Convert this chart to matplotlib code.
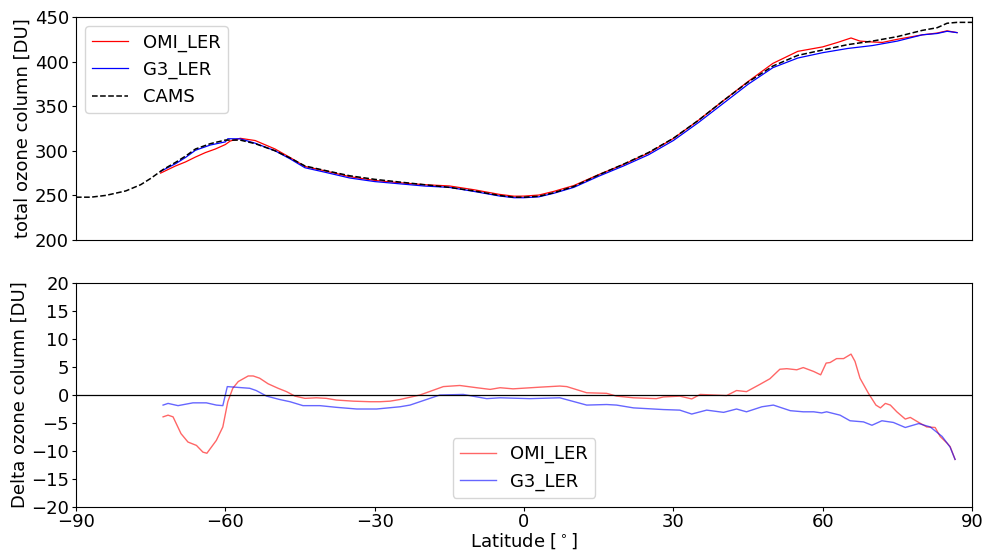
import matplotlib
matplotlib.use('Agg')
import matplotlib.pyplot as plt
import numpy as np

# Top panel: total ozone column [DU]
lat_cams = [-90, -87, -84, -80, -77, -75, -72.5, -70, -68, -66, -63, -60, -57, -54, -50, -47,
            -44, -40, -35, -30, -25, -20, -15, -10, -5, -2, 0, 3, 6, 10, 15, 20, 25, 30,
            35, 40, 45, 50, 55, 60, 65, 70, 75, 80, 83, 85, 87, 90]
cams = [248, 248, 250, 255, 262, 269, 279, 287, 294, 302, 308, 312, 312, 308, 300, 292,
        283, 278, 272, 268, 265, 262, 259, 255, 250, 248, 248, 249, 253, 260, 273, 285, 298, 314,
        334, 356, 377, 395, 407, 413, 419, 423, 428, 435, 438, 443, 444, 444]

lat_omi_top = [-73, -70, -68, -66, -64, -62, -60, -59, -57, -54, -50, -47, -44, -40, -35, -30,
               -25, -20, -15, -10, -5, -2, 0, 3, 6, 10, 15, 20, 25, 30, 35, 40, 45, 50, 55,
               60, 63, 65.7, 67.5, 70, 72, 75, 80, 83, 85, 87]
omi_top = [275, 283, 287.5, 293, 298, 302, 307, 311, 314, 311.5, 302, 292.5, 282.5, 277.5, 271,
           266.8, 264.2, 262, 260.6, 256.3, 251.2, 249.1, 249.2, 250.4, 254.5, 261, 273.3, 284.7,
           297.4, 313.8, 334, 356, 377.6, 398, 411.5, 416.5, 421.5, 426.5, 423, 422, 421.5, 425,
           430, 432, 434.5, 432.5]

lat_g3_top = [-73, -70, -68, -66, -63, -60, -59.5, -57, -54, -50, -47, -44, -40, -35, -30, -25,
              -20, -15, -10, -5, -2, 0, 3, 6, 10, 15, 20, 25, 30, 35, 40, 45, 50, 55, 60, 65,
              70, 75, 80, 83, 85, 87]
g3_top = [277, 285.5, 292.5, 300.6, 306.5, 310, 313.5, 313.4, 308.5, 300, 291, 281, 276, 269.5,
          265.5, 263, 260.5, 259, 254.4, 249.4, 247.4, 247.4, 248.4, 252.4, 259, 271.5, 283,
          295.5, 311.5, 331.5, 353, 374.5, 393.2, 404, 410, 414.7, 418, 423, 430, 431.5, 434,
          432.5]

# Bottom panel: difference to CAMS [DU]
lat_omi_d = [-72.5, -71.5, -70.5, -68.9, -67.5, -65.8, -64.5, -63.7, -61.8, -60.5, -59.5, -58.5,
             -57.4, -55.4, -54.4, -53.1, -51.4, -49.4, -47.7, -46.0, -44.0, -41.7, -39.7, -37.7,
             -34.3, -30.9, -28.9, -26.9, -24.9, -20.9, -16.2, -12.9, -9.5, -6.8, -4.8, -2.2,
             3.2, 7.2, 8.6, 12.6, 16.6, 18.6, 22.0, 26.6, 28.0, 31.3, 33.7, 35.4, 38.0, 40.7,
             42.7, 44.7, 47.4, 49.4, 51.4, 52.8, 54.8, 56.1, 58.2, 59.6, 60.7, 61.5, 62.8, 64.2,
             65.7, 66.5, 67.5, 69.2, 70.7, 71.6, 72.6, 73.6, 74.9, 76.6, 77.6, 79.3, 80.9, 82.6,
             83.6, 85.0, 85.6, 86.6]
omi_d = [-3.9, -3.6, -3.9, -6.9, -8.4, -9.0, -10.2, -10.4, -8.1, -5.7, -1.2, 1.2,
         2.4, 3.4, 3.4, 3.0, 2.0, 1.2, 0.6, -0.2, -0.6, -0.5, -0.6, -0.9,
         -1.1, -1.2, -1.2, -1.1, -0.8, 0.0, 1.5, 1.7, 1.3, 1.0, 1.3, 1.1,
         1.4, 1.6, 1.5, 0.4, 0.3, -0.2, -0.5, -0.65, -0.35, -0.2, -0.7, 0.1, 0.0, -0.1,
         0.8, 0.6, 1.9, 2.9, 4.6, 4.7, 4.5, 4.9, 4.2, 3.6, 5.7, 5.8, 6.5, 6.5,
         7.3, 6.0, 3.0, 0.3, -1.8, -2.3, -1.5, -1.8, -3.0, -4.3, -4.0, -4.9, -5.7, -5.8,
         -7.4, -8.6, -9.2, -11.5]

lat_g3_d = [-72.5, -71.5, -69.5, -66.5, -63.8, -61.8, -60.5, -59.6, -58.1, -55.1, -53.8, -51.7,
            -49.1, -47.0, -44.4, -41.0, -37.7, -33.6, -29.6, -24.9, -22.9, -16.9, -12.2, -7.5,
            -4.8, 1.2, 7.2, 12.6, 16.6, 18.6, 22.0, 26.0, 28.0, 31.3, 33.7, 36.7, 40.1, 42.7,
            44.7, 47.8, 50.1, 53.5, 56.1, 58.2, 59.8, 60.8, 63.5, 65.5, 68.2, 69.9, 71.9, 74.2,
            76.6, 79.3, 81.6, 84.0, 85.6, 86.6]
g3_d = [-1.8, -1.5, -1.9, -1.4, -1.4, -1.8, -1.9, 1.5, 1.4, 1.2, 0.8, -0.2,
        -0.8, -1.2, -1.9, -1.9, -2.2, -2.5, -2.5, -2.1, -1.8, 0.0, 0.1, -0.65,
        -0.5, -0.65, -0.5, -1.8, -1.7, -1.8, -2.3, -2.5, -2.6, -2.7, -3.4, -2.7, -3.1, -2.5,
        -3.0, -2.1, -1.8, -2.8, -3.0, -3.0, -3.2, -3.0, -3.6, -4.6, -4.8, -5.4, -4.6, -4.9,
        -5.8, -5.1, -5.7, -7.4, -9.3, -11.5]

xticks = [-90, -60, -30, 0, 30, 60, 90]
yticks_top = [200, 250, 300, 350, 400, 450]
yticks_bot = [-20, -15, -10, -5, 0, 5, 10, 15, 20]

plt.rcParams['font.size'] = 13
plt.rcParams['xtick.major.size'] = 3
plt.rcParams['ytick.major.size'] = 3
plt.rcParams['xtick.major.pad'] = 1.5
plt.rcParams['ytick.major.pad'] = 2

fig = plt.figure(figsize=(9.88, 5.54), dpi=100)
ax1 = fig.add_axes([0.0769, 0.5668, 0.9069, 0.4025])
ax2 = fig.add_axes([0.0769, 0.0848, 0.9069, 0.4044])

# top
ax1.plot(lat_omi_top, omi_top, color='red', lw=0.9, label='OMI_LER')
ax1.plot(lat_g3_top, g3_top, color='blue', lw=0.9, label='G3_LER')
ax1.plot(lat_cams, cams, color='black', ls='--', lw=1.1, label='CAMS')
ax1.set_xlim(-90, 90)
ax1.set_ylim(200, 450)
ax1.set_yticks(yticks_top)
ax1.set_xticks([])
ax1.set_ylabel('total ozone column [DU]', labelpad=2)
ax1.legend(loc='upper left')

# bottom
ax2.plot(lat_omi_d, omi_d, color='red', lw=1, alpha=0.6, label='OMI_LER')
ax2.plot(lat_g3_d, g3_d, color='blue', lw=1, alpha=0.6, label='G3_LER')
ax2.axhline(0, color='black', lw=0.9)
ax2.set_xlim(-90, 90)
ax2.set_ylim(-20, 20)
ax2.set_xticks(xticks)
ax2.set_yticks(yticks_bot)
ax2.set_ylabel('Delta ozone column [DU]', labelpad=2)
ax2.set_xlabel(r'Latitude [$^\circ$]', labelpad=0)
ax2.legend(loc='lower center')

fig.savefig('out.png', dpi=100)
